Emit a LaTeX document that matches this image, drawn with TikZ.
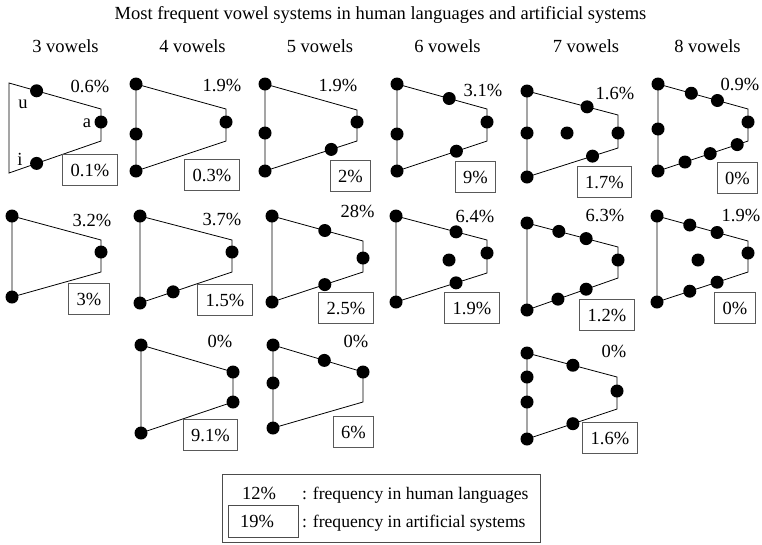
\documentclass[tikz,border=0pt]{standalone}
\usepackage{fontspec}
\setmainfont{Liberation Serif}
\usetikzlibrary{calc}
\begin{document}
\begin{tikzpicture}[x=1pt,y=-1pt,
  trap/.style={draw=black,line width=0.8pt,line join=miter},
  dot/.style={circle,fill=black,inner sep=0pt,minimum size=13pt},
  txt/.style={anchor=base,inner sep=0pt,font=\fontsize{18.5}{22}\selectfont},
  pct/.style={txt},
  lgtxt/.style={anchor=base west,inner sep=0pt,font=\fontsize{17.6}{21}\selectfont},
  artbox/.style={draw=black!65,line width=0.9pt,font=\fontsize{18.5}{22}\selectfont,
    inner xsep=8pt,inner ysep=0pt,minimum height=31pt,text height=13pt,text depth=0pt}]
\useasboundingbox (0,0) rectangle (762,544);

% title and headers
\node[txt] (title) at (380.5,19) {Most frequent vowel systems in human languages and artificial systems};
\node[txt] (h3) at (65.5,52) {3 vowels};
\node[txt] (h4) at (192.5,52) {4 vowels};
\node[txt] (h5) at (320,52) {5 vowels};
\node[txt] (h6) at (447.5,52) {6 vowels};
\node[txt] (h7) at (586,52) {7 vowels};
\node[txt] (h8) at (707.5,52) {8 vowels};

% ---------- Row 1 ----------
% A1: 3 vowels
\coordinate (a1tl) at (9,83); \coordinate (a1tr) at (101,109);
\coordinate (a1br) at (101,141); \coordinate (a1bl) at (9,173);
\draw[trap] (a1tl) -- (a1tr) -- (a1br) -- (a1bl) -- cycle;
\node[dot] (a1u) at ($(a1tl)!0.30!(a1tr)$) {};
\node[dot] (a1a) at (101,122) {};
\node[dot] (a1i) at ($(a1bl)!0.30!(a1br)$) {};
\node[txt] (lu) at (23,108) {u};
\node[txt] (la) at (87,127) {a};
\node[txt] (li) at (20,165) {i};
\node[pct] (p1a) at (90,92) {0.6\%};
\node[artbox] (q1a) at (90,170) {0.1\%};

% B1: 4 vowels
\coordinate (b1tl) at (136,84); \coordinate (b1tr) at (226,109);
\coordinate (b1br) at (226,141); \coordinate (b1bl) at (136,171);
\draw[trap] (b1tl) -- (b1tr) -- (b1br) -- (b1bl) -- cycle;
\node[dot] (b1d1) at (b1tl) {};
\node[dot] (b1d2) at (136,134) {};
\node[dot] (b1d3) at (b1bl) {};
\node[dot] (b1d4) at (226,122) {};
\node[pct] (p1b) at (222,91) {1.9\%};
\node[artbox] (q1b) at (212,175) {0.3\%};

% C1: 5 vowels
\coordinate (c1tl) at (265,84); \coordinate (c1tr) at (357,110);
\coordinate (c1br) at (357,141); \coordinate (c1bl) at (265,171);
\draw[trap] (c1tl) -- (c1tr) -- (c1br) -- (c1bl) -- cycle;
\node[dot] (c1d1) at (c1tl) {};
\node[dot] (c1d2) at (265,133) {};
\node[dot] (c1d3) at (c1bl) {};
\node[dot] (c1d4) at (357,122) {};
\node[dot] (c1d5) at ($(c1bl)!0.72!(c1br)$) {};
\node[pct] (p1c) at (338,91) {1.9\%};
\node[artbox] (q1c) at (350.5,176) {2\%};

% D1: 6 vowels
\coordinate (d1tl) at (397,84); \coordinate (d1tr) at (487,109);
\coordinate (d1br) at (487,141); \coordinate (d1bl) at (397,171);
\draw[trap] (d1tl) -- (d1tr) -- (d1br) -- (d1bl) -- cycle;
\node[dot] (d1d1) at (d1tl) {};
\node[dot] (d1d2) at (397,134) {};
\node[dot] (d1d3) at (d1bl) {};
\node[dot] (d1d4) at ($(d1tl)!0.58!(d1tr)$) {};
\node[dot] (d1d5) at (487,122) {};
\node[dot] (d1d6) at ($(d1bl)!0.66!(d1br)$) {};
\node[pct] (p1d) at (483,96) {3.1\%};
\node[artbox] (q1d) at (475.5,177) {9\%};

% E1: 7 vowels
\coordinate (e1tl) at (527,91); \coordinate (e1tr) at (618,115);
\coordinate (e1br) at (618,148); \coordinate (e1bl) at (527,177);
\draw[trap] (e1tl) -- (e1tr) -- (e1br) -- (e1bl) -- cycle;
\node[dot] (e1d1) at (e1tl) {};
\node[dot] (e1d2) at (527,133) {};
\node[dot] (e1d3) at (e1bl) {};
\node[dot] (e1d4) at ($(e1tl)!0.66!(e1tr)$) {};
\node[dot] (e1d5) at (567,133) {};
\node[dot] (e1d6) at (618,133) {};
\node[dot] (e1d7) at ($(e1bl)!0.72!(e1br)$) {};
\node[pct] (p1e) at (615,99) {1.6\%};
\node[artbox] (q1e) at (604.5,181.5) {1.7\%};

% F1: 8 vowels
\coordinate (f1tl) at (658,84); \coordinate (f1tr) at (748,109);
\coordinate (f1br) at (748,141); \coordinate (f1bl) at (658,171);
\draw[trap] (f1tl) -- (f1tr) -- (f1br) -- (f1bl) -- cycle;
\node[dot] (f1d1) at (f1tl) {};
\node[dot] (f1d2) at (658,129) {};
\node[dot] (f1d3) at (f1bl) {};
\node[dot] (f1d4) at ($(f1tl)!0.37!(f1tr)$) {};
\node[dot] (f1d5) at ($(f1tl)!0.66!(f1tr)$) {};
\node[dot] (f1d6) at (748,122) {};
\node[dot] (f1d7) at ($(f1bl)!0.88!(f1br)$) {};
\node[dot] (f1d8) at ($(f1bl)!0.58!(f1br)$) {};
\node[dot] (f1d9) at ($(f1bl)!0.30!(f1br)$) {};
\node[pct] (p1f) at (740,90) {0.9\%};
\node[artbox] (q1f) at (737.5,178) {0\%};

% ---------- Row 2 ----------
% A2
\coordinate (a2tl) at (12,216); \coordinate (a2tr) at (101,240);
\coordinate (a2br) at (101,272); \coordinate (a2bl) at (12,297);
\draw[trap] (a2tl) -- (a2tr) -- (a2br) -- (a2bl) -- cycle;
\node[dot] (a2d1) at (a2tl) {};
\node[dot] (a2d2) at (a2bl) {};
\node[dot] (a2d3) at (101,252) {};
\node[pct] (p2a) at (92,226) {3.2\%};
\node[artbox] (q2a) at (89,299) {3\%};

% B2
\coordinate (b2tl) at (140,216); \coordinate (b2tr) at (232,240);
\coordinate (b2br) at (232,272); \coordinate (b2bl) at (140,303);
\draw[trap] (b2tl) -- (b2tr) -- (b2br) -- (b2bl) -- cycle;
\node[dot] (b2d1) at (b2tl) {};
\node[dot] (b2d2) at (b2bl) {};
\node[dot] (b2d3) at (232,252) {};
\node[dot] (b2d4) at ($(b2bl)!0.36!(b2br)$) {};
\node[pct] (p2b) at (222,225) {3.7\%};
\node[artbox] (q2b) at (225,300) {1.5\%};

% C2
\coordinate (c2tl) at (272,216); \coordinate (c2tr) at (363,241);
\coordinate (c2br) at (363,272); \coordinate (c2bl) at (272,302);
\draw[trap] (c2tl) -- (c2tr) -- (c2br) -- (c2bl) -- cycle;
\node[dot] (c2d1) at (c2tl) {};
\node[dot] (c2d2) at (c2bl) {};
\node[dot] (c2d3) at ($(c2tl)!0.58!(c2tr)$) {};
\node[dot] (c2d4) at (363,258) {};
\node[dot] (c2d5) at ($(c2bl)!0.58!(c2br)$) {};
\node[pct] (p2c) at (357.5,217) {28\%};
\node[artbox] (q2c) at (346,308) {2.5\%};

% D2
\coordinate (d2tl) at (396,216); \coordinate (d2tr) at (487,240);
\coordinate (d2br) at (487,273); \coordinate (d2bl) at (396,302);
\draw[trap] (d2tl) -- (d2tr) -- (d2br) -- (d2bl) -- cycle;
\node[dot] (d2d1) at (d2tl) {};
\node[dot] (d2d2) at (d2bl) {};
\node[dot] (d2d3) at ($(d2tl)!0.66!(d2tr)$) {};
\node[dot] (d2d4) at (449,260) {};
\node[dot] (d2d5) at (487,253) {};
\node[dot] (d2d6) at ($(d2bl)!0.66!(d2br)$) {};
\node[pct] (p2d) at (475,222) {6.4\%};
\node[artbox] (q2d) at (472,308) {1.9\%};

% E2
\coordinate (e2tl) at (527,223); \coordinate (e2tr) at (618,247);
\coordinate (e2br) at (618,278); \coordinate (e2bl) at (527,310);
\draw[trap] (e2tl) -- (e2tr) -- (e2br) -- (e2bl) -- cycle;
\node[dot] (e2d1) at (e2tl) {};
\node[dot] (e2d2) at ($(e2tl)!0.35!(e2tr)$) {};
\node[dot] (e2d3) at ($(e2tl)!0.65!(e2tr)$) {};
\node[dot] (e2d4) at (618,260) {};
\node[dot] (e2d5) at ($(e2bl)!0.65!(e2br)$) {};
\node[dot] (e2d6) at ($(e2bl)!0.34!(e2br)$) {};
\node[dot] (e2d7) at (e2bl) {};
\node[pct] (p2e) at (605,221) {6.3\%};
\node[artbox] (q2e) at (607,315) {1.2\%};

% F2
\coordinate (f2tl) at (657,216); \coordinate (f2tr) at (748,241);
\coordinate (f2br) at (748,272); \coordinate (f2bl) at (657,302);
\draw[trap] (f2tl) -- (f2tr) -- (f2br) -- (f2bl) -- cycle;
\node[dot] (f2d1) at (f2tl) {};
\node[dot] (f2d2) at ($(f2tl)!0.36!(f2tr)$) {};
\node[dot] (f2d3) at ($(f2tl)!0.66!(f2tr)$) {};
\node[dot] (f2d4) at (748,253) {};
\node[dot] (f2d5) at (698,260) {};
\node[dot] (f2d6) at ($(f2bl)!0.66!(f2br)$) {};
\node[dot] (f2d7) at ($(f2bl)!0.36!(f2br)$) {};
\node[dot] (f2d8) at (f2bl) {};
\node[pct] (p2f) at (741,221) {1.9\%};
\node[artbox] (q2f) at (735,307.5) {0\%};

% ---------- Row 3 ----------
% B3
\coordinate (b3tl) at (141,345); \coordinate (b3tr) at (233,372);
\coordinate (b3br) at (233,402); \coordinate (b3bl) at (141,433);
\draw[trap] (b3tl) -- (b3tr) -- (b3br) -- (b3bl) -- cycle;
\node[dot] (b3d1) at (b3tl) {};
\node[dot] (b3d2) at (b3tr) {};
\node[dot] (b3d3) at (b3br) {};
\node[dot] (b3d4) at (b3bl) {};
\node[pct] (p3b) at (220,347) {0\%};
\node[artbox] (q3b) at (210.5,435) {9.1\%};

% C3
\coordinate (c3tl) at (273,345); \coordinate (c3tr) at (363,372);
\coordinate (c3br) at (363,402); \coordinate (c3bl) at (273,428);
\draw[trap] (c3tl) -- (c3tr) -- (c3br) -- (c3bl) -- cycle;
\node[dot] (c3d1) at (c3tl) {};
\node[dot] (c3d2) at (273,383) {};
\node[dot] (c3d3) at (c3bl) {};
\node[dot] (c3d4) at ($(c3tl)!0.57!(c3tr)$) {};
\node[dot] (c3d5) at (c3tr) {};
\node[pct] (p3c) at (356,347) {0\%};
\node[artbox] (q3c) at (353.5,432) {6\%};

% E3
\coordinate (e3tl) at (527,353); \coordinate (e3tr) at (617,377);
\coordinate (e3br) at (617,409); \coordinate (e3bl) at (527,439);
\draw[trap] (e3tl) -- (e3tr) -- (e3br) -- (e3bl) -- cycle;
\node[dot] (e3d1) at (e3tl) {};
\node[dot] (e3d2) at (527,377) {};
\node[dot] (e3d3) at (527,402) {};
\node[dot] (e3d4) at (e3bl) {};
\node[dot] (e3d5) at ($(e3tl)!0.51!(e3tr)$) {};
\node[dot] (e3d6) at (617,391) {};
\node[dot] (e3d7) at ($(e3bl)!0.51!(e3br)$) {};
\node[pct] (p3e) at (614,357) {0\%};
\node[artbox] (q3e) at (610,438) {1.6\%};

% ---------- Legend ----------
\node[draw=black!70,line width=0.9pt,minimum width=318pt,minimum height=68pt,inner sep=0pt] (legend) at (381,508) {};
\node[draw=black!70,line width=0.9pt,minimum width=70pt,minimum height=32pt,inner sep=0pt] (lgbox) at (263,521) {};
\node[txt] (lg12) at (259,499) {12\%};
\node[txt] (lg19) at (257,527) {19\%};
\node[lgtxt] (lgh) at (302,499) {: frequency in human languages};
\node[lgtxt] (lga) at (302,527) {: frequency in artificial systems};
\end{tikzpicture}
\end{document}
